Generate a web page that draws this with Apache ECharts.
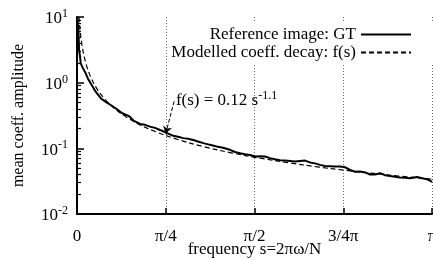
<!DOCTYPE html>
<html>
<head>
<meta charset="utf-8">
<script src="https://cdn.jsdelivr.net/npm/echarts@6/dist/echarts.min.js"></script>
<style>
  html, body { margin: 0; padding: 0; background: #fff; }
  #main { width: 433px; height: 260px; }
</style>
</head>
<body>
<div id="main"></div>
<script>
// frequency positions (s) and amplitudes
const gtS = [0.003, 0.013, 0.018, 0.027, 0.033, 0.053, 0.077, 0.097, 0.121, 0.165,
  0.21, 0.254, 0.298, 0.342, 0.401, 0.46, 0.504, 0.558, 0.602, 0.646,
  0.69, 0.735, 0.788, 0.852, 0.894, 0.941, 0.982, 1.029, 1.071, 1.118,
  1.177, 1.236, 1.292, 1.354, 1.398, 1.443, 1.487, 1.531, 1.575, 1.62,
  1.664, 1.708, 1.752, 1.797, 1.841, 1.885, 1.929, 1.974, 2.018, 2.062,
  2.106, 2.151, 2.195, 2.239, 2.283, 2.328, 2.372, 2.416, 2.46, 2.505,
  2.549, 2.593, 2.637, 2.682, 2.726, 2.77, 2.814, 2.858, 2.903, 2.947,
  3.009, 3.053, 3.097, 3.142];
const gtValues = [10, 6, 3.2, 2.5, 1.97, 1.65, 1.39, 1.15, 0.98, 0.73,
  0.58, 0.51, 0.457, 0.407, 0.342, 0.31, 0.262, 0.235, 0.228, 0.214,
  0.205, 0.19, 0.174, 0.155, 0.15, 0.143, 0.14, 0.134, 0.127, 0.12,
  0.113, 0.107, 0.102, 0.095, 0.088, 0.084, 0.081, 0.079, 0.075, 0.076,
  0.075, 0.071, 0.068, 0.066, 0.065, 0.064, 0.063, 0.064, 0.065, 0.061,
  0.059, 0.056, 0.054, 0.0535, 0.053, 0.053, 0.0515, 0.047, 0.044, 0.0445,
  0.043, 0.04, 0.04, 0.0417, 0.039, 0.038, 0.037, 0.036, 0.0355, 0.035,
  0.0365, 0.035, 0.0339, 0.031];

const fitS = [0.018, 0.025, 0.035, 0.05, 0.07, 0.1, 0.14, 0.2, 0.3, 0.4,
  0.5, 0.6, 0.785, 1.0, 1.25, 1.5, 1.75, 2.0, 2.25, 2.5, 2.75, 3.0, 3.142];
const fitValues = [10, 6.9, 4.8, 3.24, 2.24, 1.51, 1.04, 0.70, 0.45, 0.33,
  0.257, 0.21, 0.157, 0.12, 0.094, 0.077, 0.065, 0.056, 0.049, 0.0438, 0.0394, 0.0358, 0.034];

const xTickLabels = ['0', 'π/4', 'π/2', '3/4π', 'π'];
const yMinorTicks = [0.02, 0.03, 0.04, 0.05, 0.06, 0.07, 0.08, 0.09,
  0.2, 0.3, 0.4, 0.5, 0.6, 0.7, 0.8, 0.9,
  2, 3, 4, 5, 6, 7, 8, 9];

// annotation: label anchor and arrow ends (data units)
const noteAt = [0.875, 0.53];
const arrowFrom = [0.86, 0.52];
const arrowTo = [0.785, 0.168];

const FONT = 'Liberation Serif';
const chart = echarts.init(document.getElementById('main'), null, { renderer: 'canvas' });

const zip = (xs, ys) => xs.map((x, i) => [x, ys[i]]);
const supRich = {
  b: { fontFamily: FONT, fontSize: 17, color: '#000', padding: [4, 0, 0, 0] },
  sup: { fontFamily: FONT, fontSize: 12, color: '#000', padding: [0, 0, 6, 0] }
};

const legendBase = {
  orient: 'vertical',
  right: 0,
  align: 'right',
  itemWidth: 50,
  itemHeight: 12,
  backgroundColor: '#fff',
  selectedMode: false,
  itemStyle: { opacity: 0 },
  textStyle: { fontFamily: FONT, fontSize: 17, color: '#000' }
};

chart.setOption({
  animation: false,
  backgroundColor: '#fff',
  grid: { left: 77, right: 1, top: 17, bottom: 46, outerBoundsMode: 'none' },
  legend: [
    Object.assign({}, legendBase, { top: 22, padding: [4, 21, 0, 40], data: ['Reference image: GT'] }),
    Object.assign({}, legendBase, { top: 44, padding: [0, 21, 2, 2], data: ['Modelled coeff. decay: f(s)'] })
  ],
  xAxis: {
    type: 'value',
    min: 0,
    max: Math.PI,
    interval: Math.PI / 4,
    name: 'frequency s=2πω/N',
    nameLocation: 'middle',
    nameGap: 27,
    nameMoveOverlap: false,
    nameTextStyle: { fontFamily: FONT, fontSize: 17, color: '#000' },
    axisLine: { lineStyle: { color: '#000', width: 2 } },
    axisTick: { inside: true, length: 6, lineStyle: { color: '#000', width: 1.5 } },
    axisLabel: {
      margin: 14,
      fontFamily: FONT, fontSize: 17, color: '#000',
      showMaxLabel: true,
      formatter: v => xTickLabels[Math.round(v / (Math.PI / 4))]
    },
    splitLine: { show: true, lineStyle: { color: '#666', type: [1, 2], width: 1 } }
  },
  yAxis: [{
    type: 'log',
    min: 0.01,
    max: 10,
    logBase: 10,
    name: 'mean coeff. amplitude',
    nameLocation: 'middle',
    nameGap: 50,
    nameMoveOverlap: false,
    nameTextStyle: { fontFamily: FONT, fontSize: 16, color: '#000' },
    axisLine: { show: true, lineStyle: { color: '#000', width: 2 } },
    axisTick: { inside: true, length: 7, lineStyle: { color: '#000', width: 1.5 } },
    axisLabel: {
      margin: 9,
      formatter: v => '{b|10}{sup|' + Math.round(Math.log10(v)) + '}',
      rich: supRich
    },
    splitLine: { show: false }
  }, {
    type: 'log',
    min: 0.01,
    max: 10,
    logBase: 10,
    position: 'left',
    axisLine: { show: false },
    axisLabel: { show: false },
    axisTick: { show: true, inside: true, length: 4, customValues: yMinorTicks, lineStyle: { color: '#000', width: 1.2 } },
    splitLine: { show: false }
  }],
  series: [{
    name: 'Reference image: GT',
    type: 'line',
    yAxisIndex: 0,
    symbol: 'none',
    data: zip(gtS, gtValues),
    lineStyle: { color: '#000', width: 2 },
    itemStyle: { color: '#000' },
    z: 3
  }, {
    name: 'Modelled coeff. decay: f(s)',
    type: 'line',
    yAxisIndex: 0,
    symbol: 'none',
    smooth: 0.3,
    data: zip(fitS, fitValues),
    lineStyle: { color: '#000', width: 1.2, type: [5, 3] },
    itemStyle: { color: '#000' },
    z: 2,
    markLine: {
      silent: true,
      symbol: ['none', 'arrow'],
      symbolSize: 7,
      label: { show: false },
      lineStyle: { color: '#000', width: 1, type: [4, 2] },
      data: [[{ coord: arrowFrom }, { coord: arrowTo }]]
    },
    markPoint: {
      silent: true,
      symbol: 'circle',
      symbolSize: 0,
      data: [{ coord: noteAt }],
      label: {
        show: true,
        position: 'right',
        distance: 0,
        formatter: () => '{b|f(s) = 0.12 s}{sup|-1.1}',
        rich: {
          b: { fontFamily: FONT, fontSize: 17, color: '#000' },
          sup: { fontFamily: FONT, fontSize: 12, color: '#000', padding: [0, 0, 10, 0] }
        }
      }
    }
  }]
});
</script>
</body>
</html>
